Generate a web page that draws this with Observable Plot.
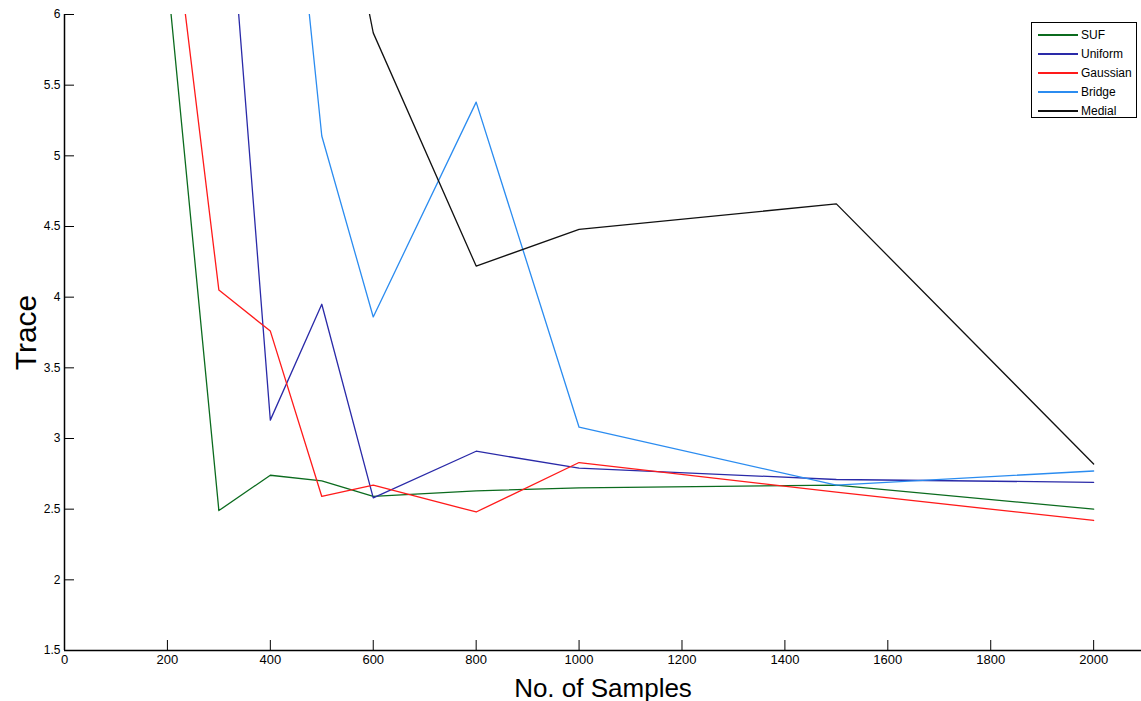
<!DOCTYPE html>
<html>
<head>
<meta charset="utf-8">
<script src="https://cdn.jsdelivr.net/npm/d3@7"></script>
<script src="https://cdn.jsdelivr.net/npm/@observablehq/plot@0.6"></script>
<style>
  body { margin: 0; background: #fff; }
  #wrap { position: relative; width: 1141px; height: 701px; }
  #legend { position: absolute; left: 1031px; top: 22px; width: 106px; height: 96px;
    border: 1.5px solid #000; background: #fff; font-family: "Liberation Sans", Arial, sans-serif;
    font-size: 12px; box-sizing: border-box; padding-top: 3px; }
  #legend .row { display: flex; align-items: center; height: 18.8px; }
  #legend .sw { width: 40px; height: 2px; margin-left: 6px; margin-right: 3px; }
</style>
</head>
<body>
<div id="wrap"><div id="chart"></div><div id="legend"></div></div>
<script>
const samples  = [200, 300, 400, 500, 600, 800, 1000, 1500, 2000];
const suf      = [6.27, 2.49, 2.74, 2.70, 2.59, 2.63, 2.65, 2.67, 2.50];
const uniform  = [null, 7.8, 3.13, 3.95, 2.58, 2.91, 2.79, 2.71, 2.69];
const gaussian = [7.05, 4.05, 3.76, 2.59, 2.67, 2.48, 2.83, 2.62, 2.42];
const bridge   = [null, null, 8.7, 5.14, 3.86, 5.38, 3.08, 2.67, 2.77];
const medial   = [null, null, null, 7.7, 5.87, 4.22, 4.48, 4.66, 2.82];

const seriesNames  = ["SUF", "Uniform", "Gaussian", "Bridge", "Medial"];
const seriesValues = [suf, uniform, gaussian, bridge, medial];
const seriesColors = ["#0b6b1e", "#2a2aa8", "#ff1a1a", "#2b8cf0", "#111111"];

const xTicks = [0, 200, 400, 600, 800, 1000, 1200, 1400, 1600, 1800, 2000];
const yTicks = [1.5, 2, 2.5, 3, 3.5, 4, 4.5, 5, 5.5, 6];

const rows = [];
seriesNames.forEach((name, i) => {
  samples.forEach((s, j) => rows.push({series: name, x: s, y: seriesValues[i][j]}));
});

const chart = Plot.plot({
  width: 1141,
  height: 701,
  marginTop: 14,
  marginBottom: 51,
  marginLeft: 64,
  marginRight: 0,
  style: {fontFamily: "Liberation Sans, Arial, sans-serif", background: "#fff", color: "#000"},
  x: {domain: [0, 2093]},
  y: {domain: [1.5, 6]},
  color: {domain: seriesNames, range: seriesColors},
  marks: [
    Plot.line(rows, {x: "x", y: "y", z: "series", stroke: "series", strokeWidth: 1.3, clip: true}),
    Plot.ruleX([0], {stroke: "#000", strokeWidth: 1.5}),
    Plot.ruleY([1.5], {stroke: "#000", strokeWidth: 1.5}),
    Plot.axisX(xTicks, {tickSize: -10, tickPadding: 14, fontSize: 13, fontFamily: "Liberation Sans Narrow, Liberation Sans, Arial", tickFormat: d => String(d),
      label: "No. of Samples", labelAnchor: "center", labelArrow: "none", labelOffset: 46}),
    Plot.axisY(yTicks, {tickSize: -10, tickPadding: 14, fontSize: 12, tickFormat: d => String(d),
      label: "Trace", labelAnchor: "center", labelArrow: "none", labelOffset: 50})
  ]
});
document.getElementById("chart").appendChild(chart);

chart.querySelectorAll("g[aria-label='x-axis label'] text").forEach(t => t.setAttribute("font-size", 26));
chart.querySelectorAll("g[aria-label='y-axis label'] text").forEach(t => t.setAttribute("font-size", 30));

const legend = document.getElementById("legend");
seriesNames.forEach((name, i) => {
  const row = document.createElement("div");
  row.className = "row";
  const sw = document.createElement("div");
  sw.className = "sw";
  sw.style.background = seriesColors[i];
  const lab = document.createElement("span");
  lab.textContent = name;
  row.appendChild(sw); row.appendChild(lab);
  legend.appendChild(row);
});
</script>
</body>
</html>
